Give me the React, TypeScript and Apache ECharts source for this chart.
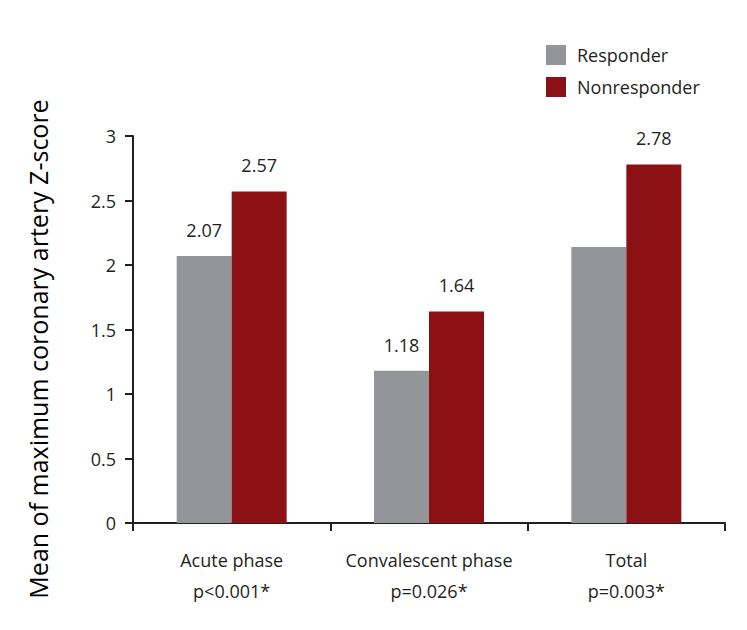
import React, { useEffect, useRef } from "react";
import * as echarts from "echarts";

const categories = ["Acute phase\np<0.001*", "Convalescent phase\np=0.026*", "Total\np=0.003*"];
const responder = [2.07, 1.18, 2.14];
const nonresponder = [2.57, 1.64, 2.78];
const responderLabels = ["2.07", "1.18", ""];
const nonresponderLabels = ["2.57", "1.64", "2.78"];
const yTicks = [0, 0.5, 1, 1.5, 2, 2.5, 3];
const yTitle = "Mean of maximum coronary artery Z-score";

const FONT = "Open Sans";
const TXT = "#231f20";

export default function App() {
  const ref = useRef<HTMLDivElement>(null);
  useEffect(() => {
    if (!ref.current) return;
    const chart = echarts.init(ref.current, null, { renderer: "svg" });
    const axisLine = { show: true, lineStyle: { color: TXT, width: 2 } };
    const labelStyle = {
      show: true,
      position: "top",
      distance: 17,
      fontFamily: FONT,
      fontSize: 18,
      color: TXT,
    };
    chart.setOption({
      animation: false,
      backgroundColor: "#ffffff",
      textStyle: { fontFamily: FONT },
      legend: {
        orient: "vertical",
        left: 541,
        top: 40,
        itemWidth: 20,
        itemHeight: 20,
        itemGap: 12,
        icon: "rect",
        textStyle: { fontFamily: FONT, fontSize: 18, color: TXT, padding: [0, 0, 0, 6] },
        data: ["Responder", "Nonresponder"],
      },
      graphic: [
        {
          type: "text",
          x: 38,
          y: 349,
          rotation: Math.PI / 2,
          style: {
            text: yTitle,
            fontFamily: FONT,
            fontSize: 25,
            fill: "#000",
            align: "center",
            verticalAlign: "middle",
          },
        },
      ],
      grid: { left: 133, right: 22, top: 136, bottom: 107, containLabel: false },
      xAxis: {
        type: "category",
        data: categories,
        axisLine,
        axisTick: { show: true, alignWithLabel: false, length: 8, lineStyle: { color: TXT, width: 2 } },
        axisLabel: {
          interval: 0,
          hideOverlap: false,
          color: TXT,
          fontFamily: FONT,
          fontSize: 18,
          lineHeight: 31,
          margin: 21,
        },
      },
      yAxis: {
        type: "value",
        min: 0,
        max: 3,
        interval: 0.5,
        axisLine,
        axisTick: { show: true, length: 8, lineStyle: { color: TXT, width: 2 } },
        splitLine: { show: false },
        axisLabel: {
          color: TXT,
          fontFamily: FONT,
          fontSize: 18,
          margin: 17,
          formatter: (v: number) => (yTicks.includes(v) ? String(v) : ""),
        },
      },
      series: [
        {
          name: "Responder",
          type: "bar",
          data: responder,
          barWidth: 55,
          barGap: "0%",
          itemStyle: { color: "#939598" },
          label: { ...labelStyle, formatter: (p: any) => responderLabels[p.dataIndex] },
        },
        {
          name: "Nonresponder",
          type: "bar",
          data: nonresponder,
          barWidth: 55,
          barGap: "0%",
          itemStyle: { color: "#8c1115" },
          label: { ...labelStyle, formatter: (p: any) => nonresponderLabels[p.dataIndex] },
        },
      ],
    });
    return () => chart.dispose();
  }, []);
  return <div ref={ref} style={{ width: 747, height: 630, margin: -8 }} />;
}
